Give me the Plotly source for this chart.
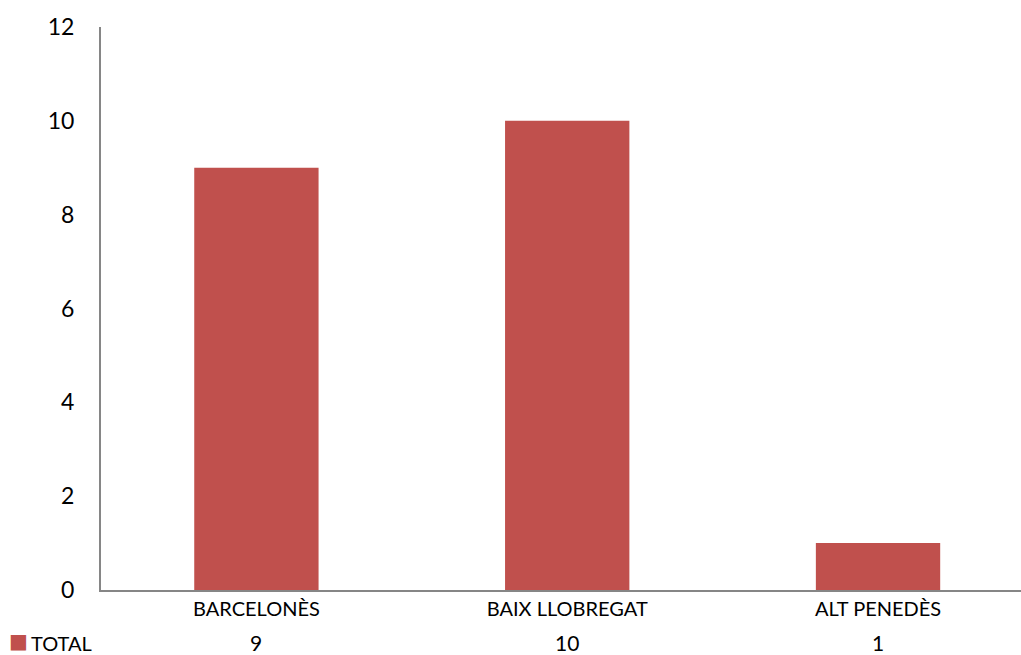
import plotly.graph_objects as go

categories = ["BARCELONÈS", "BAIX LLOBREGAT", "ALT PENEDÈS"]
total_values = [9, 10, 1]
series_name = "TOTAL"
y_ticks = [0, 2, 4, 6, 8, 10, 12]

BAR_COLOR = "#C0504D"
AXIS_COLOR = "#868686"
FONT = "Lato, 'Open Sans', sans-serif"

W, H = 1021, 655
ML, MR, MT, MB = 101, 0, 27, 65
plot_w = W - ML - MR
plot_h = H - MT - MB

fig = go.Figure()
fig.add_trace(go.Bar(
    x=list(range(len(categories))),
    y=total_values,
    name=series_name,
    marker=dict(color=BAR_COLOR, line=dict(width=0)),
    width=0.4,
    showlegend=False,
))

annotations = []
row_y = -(643 - 590) / plot_h
for i, v in enumerate(total_values):
    annotations.append(dict(
        x=i, xref="x", y=row_y, yref="paper",
        text=str(v), showarrow=False, xanchor="center", yanchor="middle",
        font=dict(family=FONT, size=21, color="#000000"),
    ))
# legend key (square) and series name of the data table row
annotations.append(dict(
    x=(18 - ML) / plot_w, xref="paper", y=-(641 - 590) / plot_h, yref="paper",
    text="■", showarrow=False, xanchor="center", yanchor="middle",
    font=dict(family="DejaVu Sans", size=20, color=BAR_COLOR),
))
annotations.append(dict(
    x=(29 - ML) / plot_w, xref="paper", y=row_y, yref="paper",
    text=series_name, showarrow=False, xanchor="left", yanchor="middle",
    font=dict(family=FONT, size=20, color="#000000"),
))

fig.update_layout(
    width=W, height=H,
    margin=dict(l=ML, r=MR, t=MT, b=MB, pad=0),
    paper_bgcolor="white", plot_bgcolor="white",
    annotations=annotations,
    xaxis=dict(
        tickmode="array", tickvals=list(range(len(categories))), ticktext=categories,
        range=[-0.5, 2.46],
        showline=True, linecolor=AXIS_COLOR, linewidth=2,
        showgrid=False, zeroline=False,
        ticks="outside", ticklen=0, tickcolor="rgba(0,0,0,0)",
        tickfont=dict(family=FONT, size=20, color="#000000"),
    ),
    yaxis=dict(
        range=[0, 12], tickmode="array", tickvals=y_ticks,
        showline=True, linecolor=AXIS_COLOR, linewidth=2,
        showgrid=False, zeroline=False,
        ticks="outside", ticklen=20, tickcolor="rgba(0,0,0,0)",
        tickfont=dict(family=FONT, size=23, color="#000000"),
    ),
)

fig.write_html(
    "out.html",
    config={"displayModeBar": False},
    post_script="document.body.style.margin='0';document.body.style.overflow='hidden';",
)
